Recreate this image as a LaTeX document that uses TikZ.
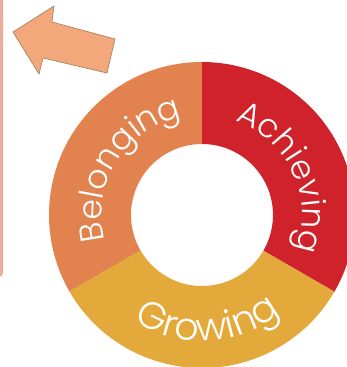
\documentclass[tikz,border=0pt]{standalone}
\usepackage{fontspec}
\setmainfont{Poppins}[UprightFont=* Light]
\usetikzlibrary{decorations.text}
\definecolor{colbelong}{HTML}{E2834F}
\definecolor{colachieve}{HTML}{D0222A}
\definecolor{colgrow}{HTML}{E3A93B}
\definecolor{arrowfill}{HTML}{F3A87C}
\definecolor{arrowline}{HTML}{A07A60}
\definecolor{boxedge}{HTML}{E9AE9C}
\tikzset{
  ringtext/.style 2 args={decorate, decoration={text along path, text align=center,
    text={|\fontsize{#1}{#1}\selectfont\color{white}|#2}}}
}
\begin{document}
\begin{tikzpicture}[x=1pt,y=1pt]
\useasboundingbox (0,0) rectangle (347,-367);
\fill[white] (0,0) rectangle (347,-367);
% left box edge
\fill[boxedge, rounded corners=4pt] (-10,10) rectangle (3,-277);
% arrow
\draw[fill=arrowfill, draw=arrowline, line width=0.6pt, line join=miter]
  (13,-32) coordinate (tip) -- (54,-6) -- (52,-22) -- (115,-39) -- (107,-73)
  -- (43,-58) -- (39,-74) -- cycle;
% ring
\begin{scope}[shift={(202,-215)}]
  \coordinate (c) at (0,0);
  \fill[colbelong] (90:153pt) arc (90:210:153pt) -- (210:71pt) arc (210:90:71pt) -- cycle;
  \fill[colgrow] (210:153pt) arc (210:330:153pt) -- (330:71pt) arc (330:210:71pt) -- cycle;
  \fill[colachieve] (330:153pt) arc (-30:90:153pt) -- (90:71pt) arc (90:-30:71pt) -- cycle;
  \path[ringtext={33}{Belonging}] (228:100pt) arc (228:68:100pt);
  \path[ringtext={33}{Achieving}] (105:100pt) arc (105:-55:100pt);
  \path[ringtext={38}{Growing}] (193:126pt) arc (193:353:126pt);
\end{scope}
\end{tikzpicture}
\end{document}
